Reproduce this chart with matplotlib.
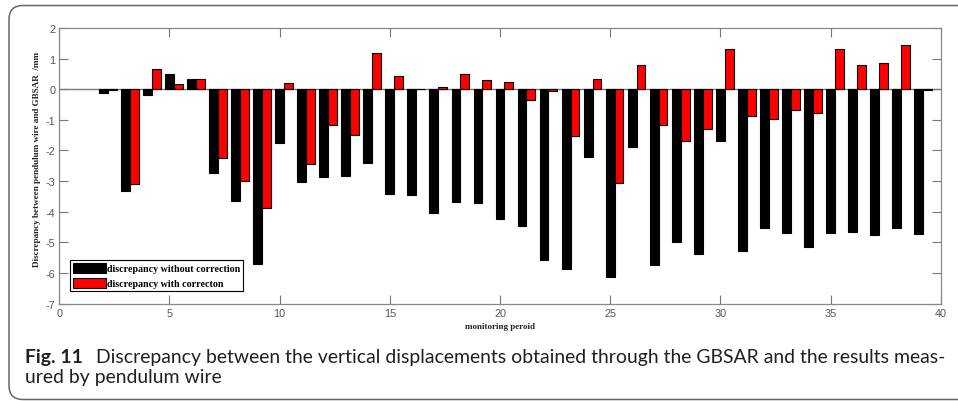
import matplotlib
matplotlib.use("Agg")
import matplotlib.pyplot as plt
import numpy as np
from matplotlib.path import Path
from matplotlib.patches import PathPatch
from matplotlib.transforms import IdentityTransform

# Monitoring periods and discrepancies (mm) between GBSAR and pendulum wire
periods = list(range(2, 40))
without_correction = [-0.13, -3.32, -0.20, 0.49, 0.35, -2.72, -3.65, -5.70, -1.76, -3.02,
                      -2.86, -2.82, -2.42, -3.43, -3.46, -4.05, -3.69, -3.73, -4.25, -4.47,
                      -5.56, -5.86, -2.21, -6.13, -1.87, -5.74, -4.99, -5.38, -1.68, -5.28,
                      -4.52, -4.68, -5.14, -4.69, -4.65, -4.75, -4.54, -4.73]
with_correction = [-0.03, -3.08, 0.65, 0.16, 0.35, -2.23, -3.00, -3.87, 0.20, -2.45,
                   -1.18, -1.50, 1.18, 0.44, 0.00, 0.08, 0.49, 0.29, 0.25, -0.35,
                   -0.05, -1.53, 0.33, -3.05, 0.80, -1.18, -1.68, -1.31, 1.33, -0.86,
                   -0.98, -0.68, -0.76, 1.33, 0.78, 0.87, 1.44, -0.02]

x_ticks = [0, 5, 10, 15, 20, 25, 30, 35, 40]
y_ticks = [-7, -6, -5, -4, -3, -2, -1, 0, 1, 2]

legend_labels = ["discrepancy without correction", "discrepancy with correcton"]
x_label = "monitoring peroid"
y_label = "Discrepancy between pendulum wire and GBSAR  /mm"
caption_bold = "Fig. 11"
caption_line1 = "Discrepancy between the vertical displacements obtained through the GBSAR and the results meas-"
caption_line2 = "ured by pendulum wire"

W, H = 958, 402
fig = plt.figure(figsize=(W / 100, H / 100), dpi=100)
fig.patch.set_facecolor("white")

# axes box in pixel terms (measured from the top-left corner)
ax_l, ax_r, ax_t, ax_b = 59.3, 940.7, 29.0, 304.6
ax = fig.add_axes([ax_l / W, 1 - ax_b / H, (ax_r - ax_l) / W, (ax_b - ax_t) / H])

x = np.array(periods, dtype=float)
bw = 0.4
b1 = ax.bar(x, without_correction, width=bw, color="black", edgecolor="black",
            linewidth=0.8, zorder=2, label=legend_labels[0])
b2 = ax.bar(x + bw, with_correction, width=bw, color="#ff0000", edgecolor="black",
            linewidth=0.8, zorder=2, label=legend_labels[1])
ax.axhline(0, color="#777777", linewidth=1.0, zorder=1)

ax.set_xlim(0, 40)
ax.set_ylim(-7, 2)
ax.set_xticks(x_ticks)
ax.set_yticks(y_ticks)
ax.set_xticklabels([str(v) for v in x_ticks])
ax.set_yticklabels([str(v) for v in y_ticks])
ax.tick_params(direction="in", top=True, right=True, length=6.5, width=0.8,
               color="#777777", labelcolor="#555555", labelsize=7.8, pad=3)
for lab in ax.get_xticklabels() + ax.get_yticklabels():
    lab.set_fontfamily("Liberation Sans")
for sp in ax.spines.values():
    sp.set_color("#888888")
    sp.set_linewidth(0.9)

ax.set_xlabel(x_label, fontfamily="Liberation Serif", fontweight="bold",
              fontsize=6.5, color="#222222", va="center")
ax.xaxis.set_label_coords(0.5, (ax_b - 327) / (ax_b - ax_t))
ax.set_ylabel(y_label, fontfamily="Liberation Serif", fontweight="bold",
              fontsize=6.6, color="#222222", va="center")
ax.yaxis.set_label_coords((36.7 - ax_l) / (ax_r - ax_l), (ax_b - 159) / (ax_b - ax_t))

leg = ax.legend(handles=[b1, b2], loc="lower left",
                bbox_to_anchor=((70 - ax_l) / (ax_r - ax_l), (ax_b - 292.3) / (ax_b - ax_t)),
                borderaxespad=0, frameon=True, fancybox=False, framealpha=1,
                prop={"family": "Liberation Serif", "weight": "bold", "size": 7.2},
                handlelength=3.3, handleheight=1.15, handletextpad=0.1,
                labelspacing=0.45, borderpad=0.3)
leg.get_frame().set_edgecolor("black")
leg.get_frame().set_linewidth(0.8)

# rounded frame around chart and caption; its right side runs past the figure edge
left, top, bottom, rad = 9.0, H - 6.5, H - 400.5, 14.0
far_right = W + 50
verts = [
    (far_right, top),
    (left + rad, top),
    (left, top), (left, top - rad),
    (left, bottom + rad),
    (left, bottom), (left + rad, bottom),
    (far_right, bottom),
]
codes = [Path.MOVETO, Path.LINETO, Path.CURVE3, Path.CURVE3, Path.LINETO,
         Path.CURVE3, Path.CURVE3, Path.LINETO]
frame = PathPatch(Path(verts, codes), transform=IdentityTransform(), fill=False,
                  edgecolor="#666666", linewidth=1.1)
fig.add_artist(frame)

cap_color = "#231f20"
cap_size = 12.0
t_bold = fig.text(25 / W, 39 / H, caption_bold, fontfamily="Lato", fontweight="bold",
                  fontsize=cap_size, va="baseline", ha="left", color=cap_color)
t_rest = fig.text(0.1, 39 / H, caption_line1, fontfamily="Lato",
                  fontsize=cap_size, va="baseline", ha="left", color=cap_color)
t_two = fig.text(25 / W, 19 / H, caption_line2, fontfamily="Lato",
                 fontsize=cap_size, va="baseline", ha="left", color=cap_color)

# size the caption so the first line spans the frame width
target_right = 943.0
for _ in range(3):
    fig.canvas.draw()
    r = fig.canvas.get_renderer()
    bb = t_bold.get_window_extent(r)
    t_rest.set_x((bb.x1 + 13) / W)
    fig.canvas.draw()
    right = t_rest.get_window_extent(r).x1
    cap_size *= (target_right - 25) / (right - 25)
    for t in (t_bold, t_rest, t_two):
        t.set_fontsize(cap_size)
fig.canvas.draw()
r = fig.canvas.get_renderer()
t_rest.set_x((t_bold.get_window_extent(r).x1 + 13) / W)

fig.savefig("out.png", dpi=100)
